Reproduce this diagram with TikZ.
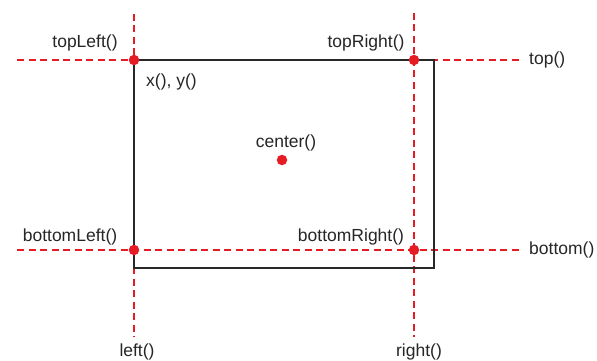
\documentclass[tikz,border=0pt]{standalone}
\usepackage{fontspec}
\setmainfont{Liberation Sans}
\definecolor{guide}{RGB}{230,28,36}
\definecolor{frame}{RGB}{40,40,40}
\begin{document}
\begin{tikzpicture}[x=1pt,y=-1pt,
  guideline/.style={draw=guide,line width=2pt,dash pattern=on 7pt off 4.5pt},
  dot/.style={circle,fill=guide,inner sep=0pt,minimum size=10.5pt},
  lbl/.style={inner sep=0pt,font=\fontsize{17.5}{20}\selectfont,text=black!85}]
\useasboundingbox (0,0) rectangle (597,361);
% guide end points
\coordinate (hT1) at (17,60);
\coordinate (hT2) at (521,60);
\coordinate (hB1) at (17,250);
\coordinate (hB2) at (521,250);
\coordinate (vL1) at (134,14);
\coordinate (vL2) at (134,337);
\coordinate (vR1) at (414,13);
\coordinate (vR2) at (414,337);
\draw[guideline] (hT1) -- (hT2);
\draw[guideline] (hB1) -- (hB2);
\draw[guideline] (vL1) -- (vL2);
\draw[guideline] (vR1) -- (vR2);
% rectangle
\coordinate (rTL) at (134,60);
\coordinate (rBR) at (434,268);
\draw[frame,line width=2.3pt] (rTL) rectangle (rBR);
% dots
\node[dot] (tl) at (134,60) {};
\node[dot] (tr) at (414,60) {};
\node[dot] (bl) at (134,250) {};
\node[dot] (br) at (414,250) {};
\node[dot] (c) at (282,160) {};
% labels
\node[lbl] (ltl) at (85,43) {topLeft()};
\node[lbl,anchor=west] (lxy) at (146,82) {x(), y()};
\node[lbl] (lc) at (286,143) {center()};
\node[lbl] (ltr) at (366,43) {topRight()};
\node[lbl,anchor=west] (lt) at (529,60) {top()};
\node[lbl] (lbl) at (70,237) {bottomLeft()};
\node[lbl] (lbr) at (351,237) {bottomRight()};
\node[lbl,anchor=west] (lb) at (529,250) {bottom()};
\node[lbl] (ll) at (137,352) {left()};
\node[lbl] (lr) at (419,352) {right()};
\end{tikzpicture}
\end{document}
